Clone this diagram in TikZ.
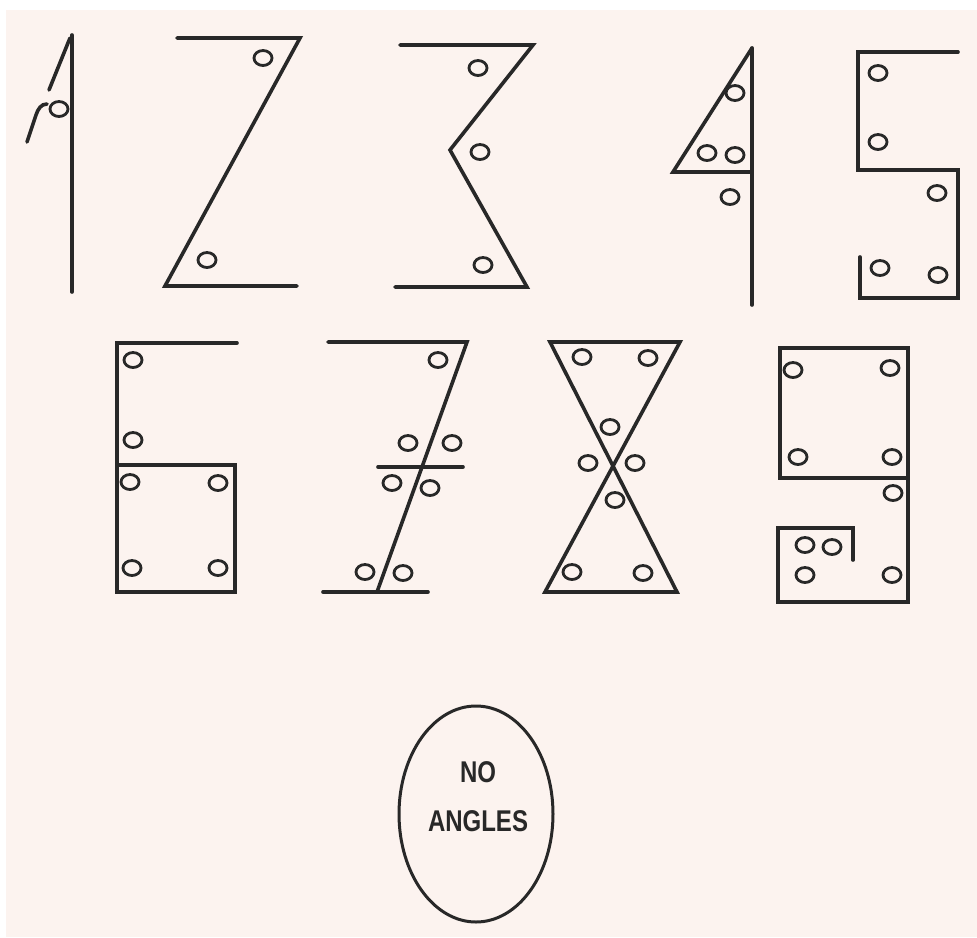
\documentclass[tikz,border=0pt]{standalone}
\usepackage{fontspec}
\setmainfont{Liberation Sans}
\usetikzlibrary{shapes.geometric}
\definecolor{bgpink}{RGB}{252,243,239}
\definecolor{ink}{RGB}{40,40,40}
\newcommand\holeat[2]{\draw[holestyle] (#1,#2) ellipse [x radius=9, y radius=7.5];}
\begin{document}
\begin{tikzpicture}[x=1pt,y=-1pt,
  stroke/.style={draw=ink,line width=3.6pt,line cap=round,line join=miter},
  holestyle/.style={draw=ink,line width=2.8pt},
  lbl/.style={text=ink,font=\bfseries\fontsize{30}{30}\selectfont,xscale=0.8,inner sep=0pt}]
\useasboundingbox (0,0) rectangle (977,937);
\fill[white] (0,0) rectangle (977,937);
\fill[bgpink] (6,10) rectangle (977,937);
% 1
\draw[stroke] (72,35) -- (72,292);
\draw[stroke] (70,38) -- (49,90);
\draw[stroke] (47,104) .. controls (41,104) and (38,109) .. (36,115) -- (27,142);
\holeat{59}{109}
% 2
\draw[stroke] (177,38) -- (300,38) -- (165,286) -- (297,286);
\holeat{263}{58}
\holeat{207}{260}
% 3
\draw[stroke] (400,45) -- (533,45) -- (450,150) -- (527,287) -- (395,287);
\holeat{478}{68}
\holeat{480}{152}
\holeat{483}{265}
% 4
\draw[stroke] (752,48) -- (752,305);
\draw[stroke] (752,48) -- (673,172) -- (752,172);
\holeat{735}{93}
\holeat{707}{153}
\holeat{735}{155}
\holeat{730}{197}
% 5
\draw[stroke] (958,52) -- (858,52) -- (858,170) -- (958,170) -- (958,298) -- (860,298) -- (860,257);
\holeat{878}{73}
\holeat{878}{142}
\holeat{937}{193}
\holeat{880}{268}
\holeat{938}{275}
% 6
\draw[stroke] (237,343) -- (117,343) -- (117,592) -- (235,592) -- (235,465) -- (117,465);
\holeat{133}{360}
\holeat{133}{440}
\holeat{130}{482}
\holeat{218}{483}
\holeat{132}{568}
\holeat{218}{568}
% 7
\draw[stroke] (328,342) -- (467,342) -- (377,592);
\draw[stroke] (323,592) -- (428,592);
\draw[stroke] (378,467) -- (463,467);
\holeat{438}{360}
\holeat{408}{443}
\holeat{452}{443}
\holeat{392}{483}
\holeat{430}{488}
\holeat{365}{572}
\holeat{403}{573}
% 8
\draw[stroke] (550,342) -- (680,342) -- (545,592) -- (677,592) -- cycle;
\holeat{582}{357}
\holeat{648}{358}
\holeat{610}{427}
\holeat{588}{463}
\holeat{635}{463}
\holeat{615}{500}
\holeat{572}{572}
\holeat{643}{573}
% 9
\draw[stroke] (780,348) rectangle (908,478);
\draw[stroke] (908,478) -- (908,602) -- (778,602) -- (778,528) -- (853,528) -- (853,560);
\holeat{793}{370}
\holeat{890}{368}
\holeat{798}{457}
\holeat{892}{457}
\holeat{893}{493}
\holeat{805}{545}
\holeat{832}{547}
\holeat{805}{575}
\holeat{892}{575}
% badge
\node[draw=ink,line width=3pt,ellipse,minimum width=154pt,minimum height=216pt,inner sep=0pt] (badge) at (476,814) {};
\node[lbl] (no) at (478,772) {NO};
\node[lbl] (angles) at (478,821) {ANGLES};
\end{tikzpicture}
\end{document}
